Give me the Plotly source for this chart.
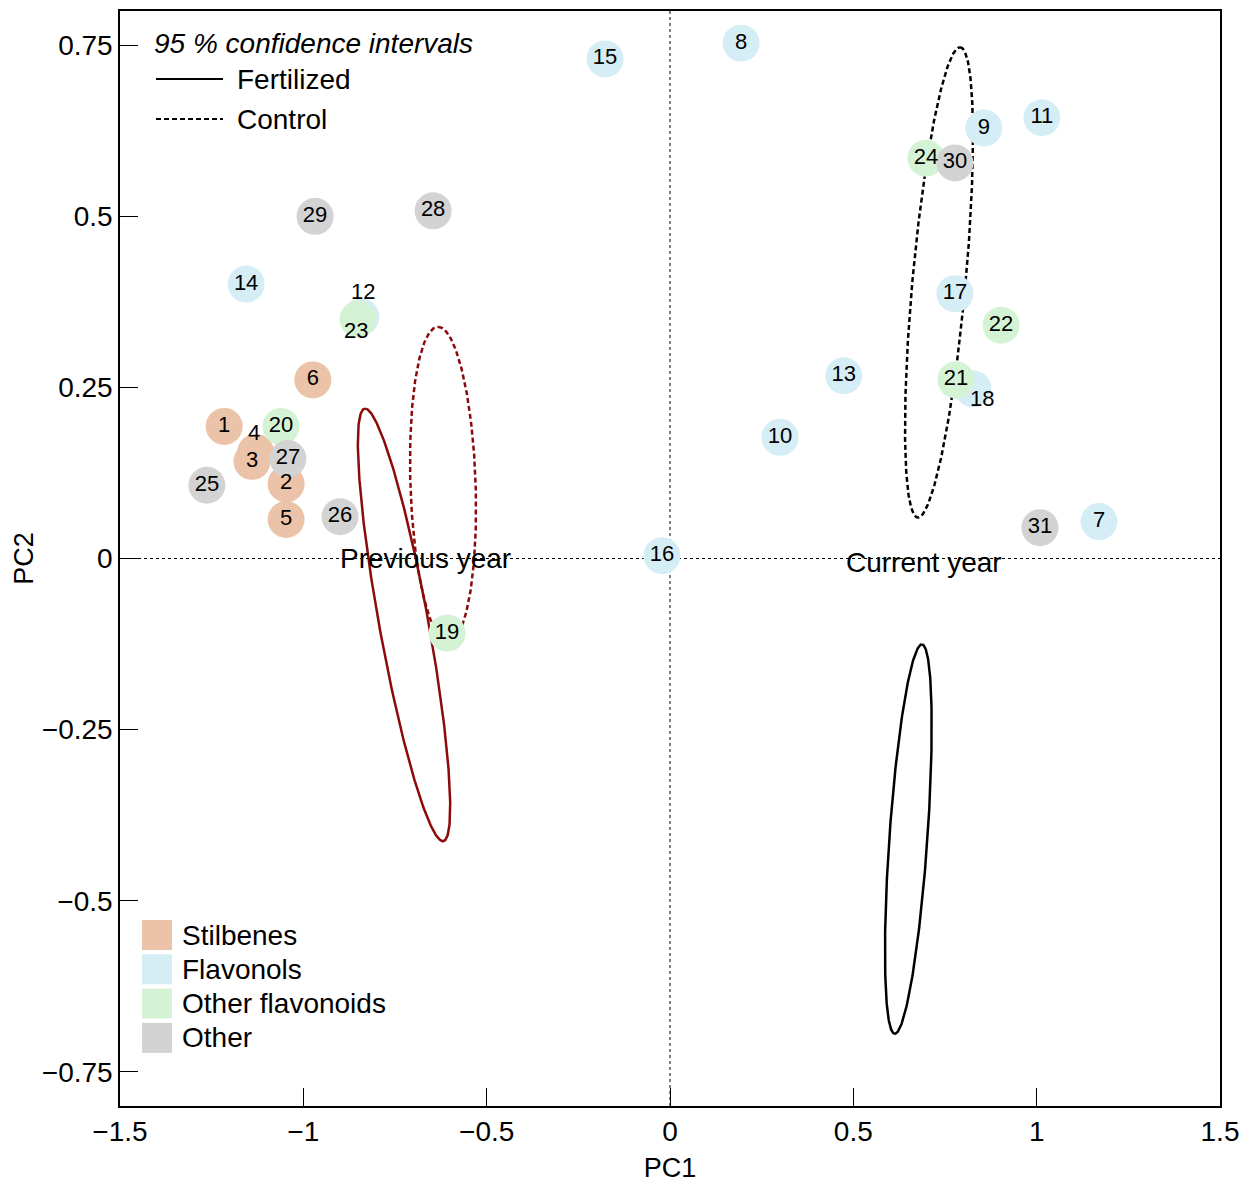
import numpy as np
import plotly.graph_objects as go

# ---------------- data ----------------
ids = list(range(1, 32))
pc1 = [-1.216, -1.047, -1.140, -1.130, -1.047, -0.974, 1.170, 0.194, 0.856, 0.300,
       1.014, -0.843, 0.474, -1.156, -0.177, -0.022, 0.777, 0.826, -0.608, -1.061,
       0.780, 0.903, -0.851, 0.698, -1.263, -0.900, -1.042, -0.646, -0.968, 0.777,
       1.009]
pc2 = [0.193, 0.109, 0.142, 0.155, 0.057, 0.261, 0.054, 0.753, 0.629, 0.177,
       0.644, 0.353, 0.267, 0.401, 0.730, 0.004, 0.387, 0.248, -0.109, 0.193,
       0.261, 0.341, 0.350, 0.585, 0.107, 0.061, 0.146, 0.508, 0.500, 0.578,
       0.045]
groups = (["Stilbenes"] * 6 + ["Flavonols"] * 12 + ["Other flavonoids"] * 6
          + ["Other"] * 7)
group_names = ["Stilbenes", "Flavonols", "Other flavonoids", "Other"]
group_colors = {"Stilbenes": "#EAC3A8", "Flavonols": "#D5EDF5",
                "Other flavonoids": "#D4F3D4", "Other": "#D3D3D3"}

# label offsets (pixels) for crowded points
label_shift = {4: (-2, 20), 12: (2, 25), 23: (-2, -12), 18: (9, -10)}

# 95 % confidence ellipses: centre, conjugate half-diameters (major vector, horizontal half-width)
ell_names = ["Fertilized, previous year", "Control, previous year",
             "Fertilized, current year", "Control, current year"]
ell_cx = [-0.7254, -0.619, 0.650, 0.7336]
ell_cy = [-0.097, 0.108, -0.410, 0.4035]
ell_ux = [-0.106, -0.0136, 0.0368, 0.0573]
ell_uy = [0.316, 0.2305, 0.2845, 0.3436]
ell_w = [0.068, 0.089, 0.052, 0.0728]
ell_color = ["#8B0A0A", "#8B0A0A", "#000000", "#000000"]
ell_dash = ["solid", "5px,3px", "solid", "5px,3px"]

FONT = "Liberation Sans, Arial, sans-serif"
TXT = 28

fig = go.Figure()

# ellipses
t = np.linspace(0, 2 * np.pi, 300)
for i in range(4):
    ex = ell_cx[i] + ell_ux[i] * np.cos(t) + ell_w[i] * np.sin(t)
    ey = ell_cy[i] + ell_uy[i] * np.cos(t)
    fig.add_trace(go.Scatter(x=ex, y=ey, mode="lines", name=ell_names[i],
                             line=dict(color=ell_color[i], width=2.5, dash=ell_dash[i]),
                             showlegend=False, hoverinfo="skip"))

# points (in id order so later ids draw on top)
texts = ["" if i in label_shift else str(i) for i in ids]
fig.add_trace(go.Scatter(
    x=pc1, y=pc2, mode="markers+text", text=texts, textposition="middle center",
    textfont=dict(family=FONT, size=22, color="black"),
    marker=dict(size=37, color=[group_colors[g] for g in groups], line=dict(width=0)),
    showlegend=False, hovertext=[f"{i}: {g}" for i, g in zip(ids, groups)],
    hoverinfo="text"))

annotations = []
for i, (dx, dy) in label_shift.items():
    annotations.append(dict(x=pc1[i - 1], y=pc2[i - 1], xref="x", yref="y",
                            text=str(i), showarrow=False, xshift=dx, yshift=dy,
                            font=dict(family=FONT, size=22, color="black")))

annotations.append(dict(x=-0.668, y=0.0, xref="x", yref="y", text="Previous year",
                        showarrow=False, font=dict(family=FONT, size=TXT, color="black")))
annotations.append(dict(x=0.693, y=-0.006, xref="x", yref="y", text="Current year",
                        showarrow=False, font=dict(family=FONT, size=TXT, color="black")))

# ---------------- manual legends (paper coords from pixel layout) ----------------
L, R, T, B = 120, 1220, 11, 1106
def px(x):
    return (x - L) / (R - L)
def py(y):
    return (B - y) / (B - T)

shapes = []
# zero lines
shapes.append(dict(type="line", xref="paper", yref="y", x0=0, x1=1, y0=0, y1=0,
                   line=dict(color="black", width=1, dash="dot"), layer="below"))
shapes.append(dict(type="line", xref="x", yref="paper", x0=0, x1=0, y0=0, y1=1,
                   line=dict(color="black", width=1, dash="dot"), layer="below"))

annotations.append(dict(x=px(152), y=py(44), xref="paper", yref="paper",
                        xanchor="left", yanchor="middle", showarrow=False,
                        text="<i>95 % confidence intervals</i>",
                        font=dict(family=FONT, size=TXT, color="black")))
line_items = [("Fertilized", "solid", 79), ("Control", "5px,3px", 119)]
for name, dash, yy in line_items:
    shapes.append(dict(type="line", xref="paper", yref="paper",
                       x0=px(156), x1=px(223), y0=py(yy), y1=py(yy),
                       line=dict(color="black", width=2, dash=dash)))
    annotations.append(dict(x=px(235), y=py(yy), xref="paper", yref="paper",
                            xanchor="left", yanchor="middle", showarrow=False, text=name,
                            font=dict(family=FONT, size=TXT, color="black")))

for k, g in enumerate(group_names):
    yc = 935 + k * 34.3
    shapes.append(dict(type="rect", xref="paper", yref="paper",
                       x0=px(142), x1=px(172), y0=py(yc + 15), y1=py(yc - 15),
                       fillcolor=group_colors[g], line=dict(width=0)))
    annotations.append(dict(x=px(180), y=py(yc), xref="paper", yref="paper",
                            xanchor="left", yanchor="middle", showarrow=False, text=g,
                            font=dict(family=FONT, size=TXT, color="black")))

axis_common = dict(showgrid=False, zeroline=False, showline=True, linecolor="black",
                   linewidth=1.5, mirror=True, ticks="inside", ticklen=18,
                   tickcolor="black", tickwidth=1.2, automargin=False,
                   tickfont=dict(family=FONT, size=28, color="black"))

fig.update_layout(
    width=1240, height=1189, autosize=False,
    margin=dict(l=L, r=1240 - R, t=T, b=1189 - B),
    paper_bgcolor="white", plot_bgcolor="white",
    xaxis=dict(range=[-1.5, 1.5], tickvals=[-1.5, -1, -0.5, 0, 0.5, 1, 1.5],
               ticktext=["\u22121.5", "\u22121", "\u22120.5", "0", "0.5", "1", "1.5"],
               title=dict(text="PC1", font=dict(family=FONT, size=27, color="black"),
                          standoff=12),
               **axis_common),
    yaxis=dict(range=[-0.8, 0.8], tickvals=[-0.75, -0.5, -0.25, 0, 0.25, 0.5, 0.75],
               ticktext=["\u22120.75", "\u22120.5", "\u22120.25", "0", "0.25", "0.5", "0.75"],
               title=dict(text="PC2", font=dict(family=FONT, size=27, color="black"),
                          standoff=0),
               **axis_common),
    shapes=shapes, annotations=annotations, showlegend=False,
)

fig.write_html(
    "out.html",
    config={"displayModeBar": False, "responsive": False},
    default_width="1240px", default_height="1189px",
    post_script=("document.documentElement.style.overflow='hidden';"
                 "document.body.style.overflow='hidden';"
                 "document.body.style.margin='0';"),
)
